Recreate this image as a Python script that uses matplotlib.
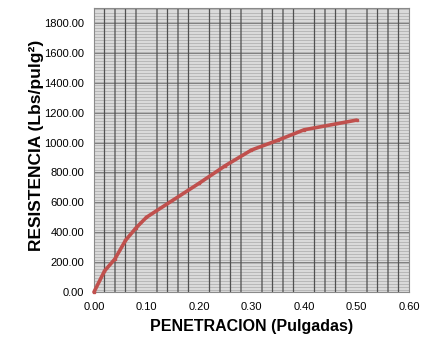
import matplotlib
matplotlib.use("Agg")

import numpy as np
import matplotlib.pyplot as plt
from matplotlib.ticker import MultipleLocator, FormatStrFormatter

# Data
penetracion = [0.00, 0.02, 0.04, 0.06, 0.08, 0.10, 0.20, 0.25, 0.30, 0.35, 0.40, 0.50]
resistencia = [0, 140, 222, 345, 429, 500, 727, 845, 950, 1015, 1085, 1150]

plt.rcParams['font.family'] = ['Liberation Sans', 'DejaVu Sans']

fig = plt.figure(figsize=(4.38, 3.41), dpi=100)
ax = fig.add_axes([0.2146, 0.1437, 0.7192, 0.8328])

ax.set_facecolor("#b8b8b8")
ax.set_xlim(0, 0.60)
ax.set_ylim(0, 1900)

ax.xaxis.set_major_locator(MultipleLocator(0.10))
ax.xaxis.set_minor_locator(MultipleLocator(0.02))
ax.yaxis.set_major_locator(MultipleLocator(200))
ax.yaxis.set_minor_locator(MultipleLocator(10))
ax.xaxis.set_major_formatter(FormatStrFormatter("%.2f"))
ax.yaxis.set_major_formatter(FormatStrFormatter("%.2f"))
ax.set_yticks(np.arange(0, 1801, 200))

# Grid: dense light horizontal stripes, darker vertical lines on top
ax.grid(True, which="minor", axis="y", color="#dadada", linewidth=0.75)
ax.grid(True, which="major", axis="y", color="#808080", linewidth=0.8)
ax.set_axisbelow(True)
xgrid = ax.get_xticks(minor=True)
vl = ax.vlines(xgrid, 0, 1, transform=ax.get_xaxis_transform(),
               colors="#505050", linewidth=0.9, zorder=1.5)
vl.set_snap(False)

ax.plot(penetracion, resistencia, color="#c0504d", linewidth=2.6,
        marker="s", markersize=1.5, solid_joinstyle="round", solid_capstyle="round",
        clip_on=False, zorder=3)

ax.tick_params(which="both", length=0, labelsize=8, colors="black")
ax.tick_params(axis="x", pad=7)
ax.tick_params(axis="y", pad=7)
for side in ["top", "right", "left", "bottom"]:
    ax.spines[side].set_color("#8a8a8a")

ax.set_xlabel("PENETRACION (Pulgadas)", fontsize=11.5, fontweight="bold", labelpad=5)
ax.set_ylabel("RESISTENCIA (Lbs/pulg²)", fontsize=12.5, fontweight="bold")
ax.yaxis.set_label_coords(-0.16, 0.518)

fig.savefig("out.png", dpi=100, facecolor="white")
